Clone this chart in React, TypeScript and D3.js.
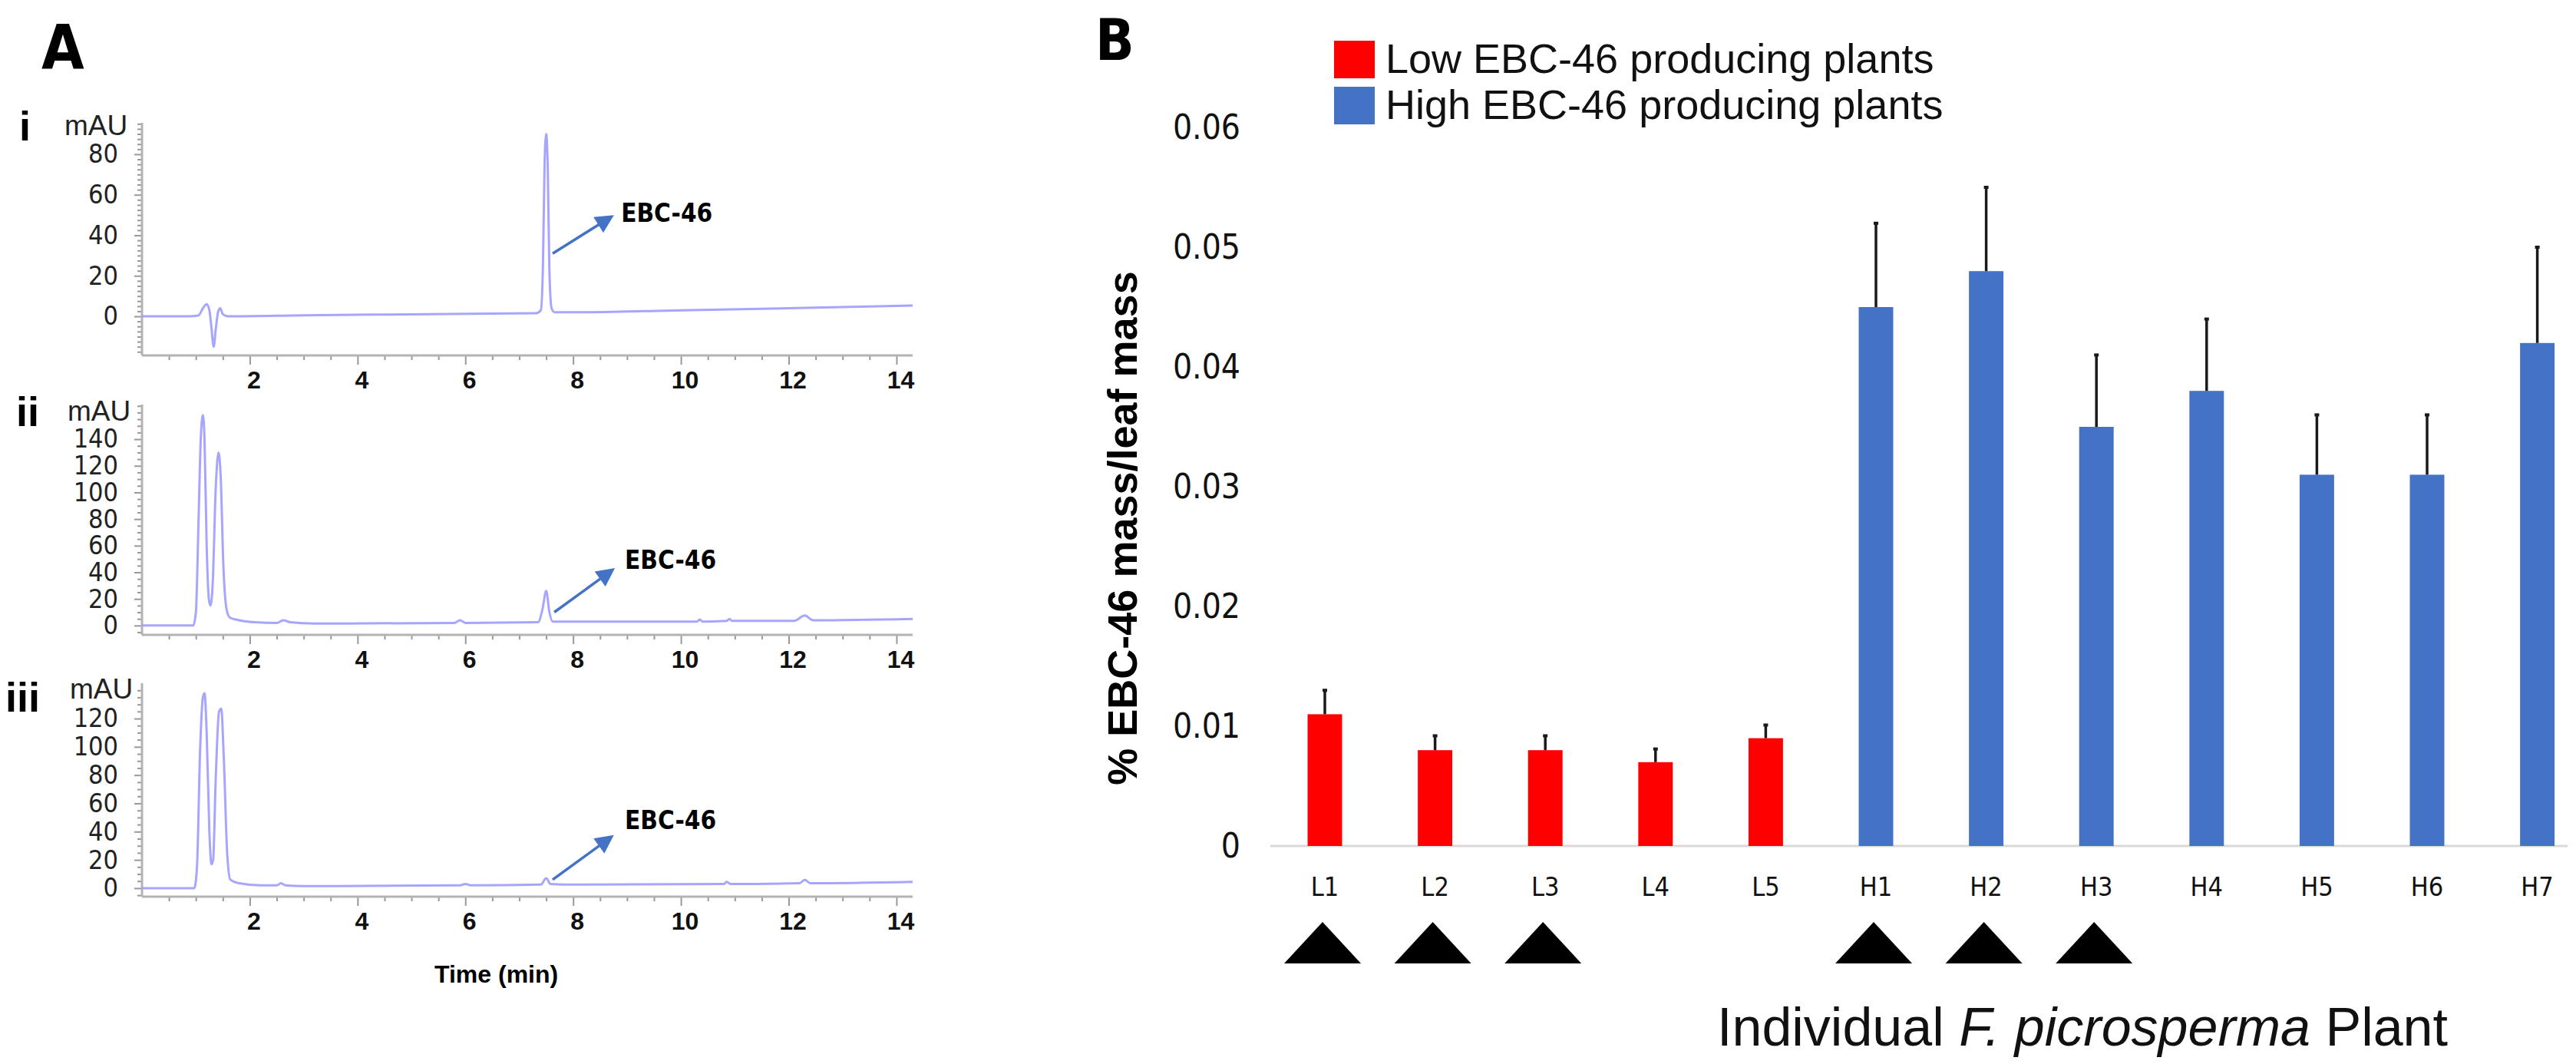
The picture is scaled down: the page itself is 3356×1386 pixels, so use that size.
import { useEffect, useRef } from 'react';
import * as d3 from 'd3';

// ---- Panel A: HPLC traces (time in min, absorbance in mAU) ----
const timeTicks = [2, 4, 6, 8, 10, 12, 14];

const chromI: [number, number][] = [
  [0, 0], [0.9, 0], [1.05, 0.5], [1.13, 4], [1.2, 6], [1.25, 3], [1.29, -6], [1.33, -15],
  [1.37, -6], [1.41, 2], [1.45, 4], [1.5, 1], [1.6, 0], [3, 0.5], [5, 1], [7.3, 1.5],
  [7.4, 3], [7.44, 25], [7.47, 75], [7.5, 90], [7.53, 72], [7.56, 22], [7.6, 4], [7.66, 2],
  [8, 2], [10, 3], [12, 4], [14.3, 5.3],
];

const chromII: [number, number][] = [
  [0, 0], [0.95, 0], [1.0, 10], [1.05, 80], [1.09, 140], [1.13, 158], [1.16, 140], [1.2, 60],
  [1.24, 20], [1.27, 15], [1.31, 30], [1.37, 105], [1.42, 130], [1.46, 112], [1.51, 45],
  [1.57, 12], [1.63, 6], [1.8, 4], [2.1, 2.5], [2.5, 2], [2.62, 4], [2.75, 2.5], [3.2, 1.5],
  [5.8, 2], [5.9, 4], [6.0, 2], [7.35, 2.5], [7.43, 12], [7.5, 26], [7.56, 10], [7.62, 3],
  [8, 3], [10.3, 3], [10.35, 4.5], [10.4, 3], [10.85, 3.5], [10.9, 5], [10.95, 3.5],
  [12.1, 3.5], [12.3, 7.5], [12.45, 4], [14.3, 5],
];

const chromIII: [number, number][] = [
  [0, 0], [0.97, 0], [1.02, 15], [1.08, 100], [1.13, 135], [1.16, 138], [1.2, 110], [1.25, 40],
  [1.29, 17], [1.32, 20], [1.37, 80], [1.43, 125], [1.47, 127], [1.52, 90], [1.58, 25],
  [1.64, 6], [1.8, 3.5], [2.2, 2], [2.5, 2], [2.58, 3.5], [2.66, 2], [3, 1.5], [5.9, 2],
  [6.0, 3], [6.1, 2], [7.4, 2.5], [7.5, 7], [7.58, 3], [8, 2.5], [10.8, 3], [10.85, 4.5],
  [10.92, 3], [12.2, 3.5], [12.3, 6], [12.4, 3.5], [14.3, 4.5],
];

const yTicksI = [0, 20, 40, 60, 80];
const yTicksII = [0, 20, 40, 60, 80, 100, 120, 140];
const yTicksIII = [0, 20, 40, 60, 80, 100, 120];

const traceNames = ['i', 'ii', 'iii'];
// EBC-46 arrow: [tail time, tail mAU, tip time, tip mAU]
const ebcArrows = [
  [7.62, 31, 8.7, 49],
  [7.65, 10, 8.72, 41.5],
  [7.62, 6, 8.7, 36],
];
// EBC-46 text anchor: [time, mAU]
const ebcLabels = [
  [8.89, 51],
  [8.96, 49],
  [8.96, 48],
];

// ---- Panel B: EBC-46 content per plant ----
const plants = ['L1', 'L2', 'L3', 'L4', 'L5', 'H1', 'H2', 'H3', 'H4', 'H5', 'H6', 'H7'];
const meanMass = [0.011, 0.008, 0.008, 0.007, 0.009, 0.045, 0.048, 0.035, 0.038, 0.031, 0.031, 0.042];
const errMass = [0.002, 0.0012, 0.0012, 0.0011, 0.0011, 0.007, 0.007, 0.006, 0.006, 0.005, 0.005, 0.008];
const plantGroup = ['low', 'low', 'low', 'low', 'low', 'high', 'high', 'high', 'high', 'high', 'high', 'high'];
const markedPlants = ['L1', 'L2', 'L3', 'H1', 'H2', 'H3'];
const massTicks = [0, 0.01, 0.02, 0.03, 0.04, 0.05, 0.06];
const legendLabels = ['Low EBC-46 producing plants', 'High EBC-46 producing plants'];
const groupKeys = ['low', 'high'];

export default function App() {
  const svgRef = useRef<SVGSVGElement>(null);

  useEffect(() => {
    document.body.style.margin = '0';
    if (!svgRef.current) return;

    const svg = d3.select(svgRef.current);
    svg.selectAll('*').remove(); // start clean

    const narrow = "'Liberation Sans Narrow', 'DejaVu Sans Condensed', 'Liberation Sans', Arial, sans-serif";
    const sans = "'Liberation Sans', Arial, sans-serif";
    const axisGray = '#b3b3b3';
    const traceColor = '#9c9cff';
    const arrowBlue = '#4472c4';

    svg
      .append('defs')
      .append('marker')
      .attr('id', 'ebcHead')
      .attr('markerUnits', 'userSpaceOnUse')
      .attr('viewBox', '0 0 10 10')
      .attr('refX', 8)
      .attr('refY', 5)
      .attr('markerWidth', 26)
      .attr('markerHeight', 24)
      .attr('orient', 'auto')
      .append('path')
      .attr('d', 'M0,0 L10,5 L0,10 z')
      .attr('fill', arrowBlue);

    // ===== Panel A =====
    svg
      .append('text')
      .attr('x', 54)
      .attr('y', 90)
      .style('font-family', narrow)
      .style('font-weight', 'bold')
      .style('font-size', '80px')
      .text('A');

    const x = d3.scaleLinear().domain([0, 14.3]).range([185, 1189]);

    const traces = [
      { data: chromI, ticks: yTicksI, minor: 2.5, domain: [-19.3, 95.5], range: [463, 160], numX: 25, numY: 183, mauX: 84, mauY: 176 },
      { data: chromII, ticks: yTicksII, minor: 5, domain: [-7, 166], range: [827, 527], numX: 21, numY: 555, mauX: 88, mauY: 548 },
      { data: chromIII, ticks: yTicksIII, minor: 5, domain: [-6, 145], range: [1168, 890], numX: 7, numY: 927, mauX: 91, mauY: 910 },
    ];

    const line = d3
      .line<[number, number]>()
      .curve(d3.curveMonotoneX);

    traces.forEach((t, i) => {
      const y = d3.scaleLinear().domain(t.domain).range(t.range);
      const g = svg.append('g');
      const xAxisY = t.range[0];

      // y axis: minor then major ticks
      const minorY = d3
        .range(Math.ceil(t.domain[0] / t.minor) * t.minor, t.domain[1], t.minor)
        .filter((v) => !t.ticks.includes(v));
      g.append('g')
        .attr('transform', `translate(${x(0)},0)`)
        .call(d3.axisLeft(y).tickValues(minorY).tickSize(6).tickFormat(() => ''))
        .call((a) => a.select('.domain').remove())
        .call((a) => a.selectAll('line').attr('stroke', '#999').attr('stroke-width', 2));
      g.append('g')
        .attr('transform', `translate(${x(0)},0)`)
        .call(d3.axisLeft(y).tickValues(t.ticks).tickSize(10).tickPadding(21))
        .call((a) => a.select('.domain').remove())
        .call((a) => a.selectAll('line').attr('stroke', '#999').attr('stroke-width', 2))
        .call((a) =>
          a
            .selectAll('text')
            .style('font-family', narrow)
            .style('font-size', '34px')
            .attr('fill', '#222')
        );
      g.append('line')
        .attr('x1', x(0))
        .attr('x2', x(0))
        .attr('y1', t.range[1])
        .attr('y2', xAxisY)
        .attr('stroke', axisGray)
        .attr('stroke-width', 3);

      // x axis: minor then major ticks
      const minorX = d3.range(0.5, 14.3, 0.5).filter((v) => v % 2 !== 0);
      g.append('g')
        .attr('transform', `translate(0,${xAxisY})`)
        .call(d3.axisBottom(x).tickValues(minorX).tickSize(6).tickFormat(() => ''))
        .call((a) => a.select('.domain').remove())
        .call((a) => a.selectAll('line').attr('stroke', '#999').attr('stroke-width', 2));
      g.append('g')
        .attr('transform', `translate(0,${xAxisY})`)
        .call(d3.axisBottom(x).tickValues(timeTicks).tickSize(12).tickPadding(8))
        .call((a) => a.select('.domain').remove())
        .call((a) => a.selectAll('line').attr('stroke', '#999').attr('stroke-width', 2))
        .call((a) =>
          a
            .selectAll('text')
            .attr('dx', 5)
            .style('font-family', sans)
            .style('font-weight', 'bold')
            .style('font-size', '32px')
            .attr('fill', '#111')
        );
      g.append('line')
        .attr('x1', x(0))
        .attr('x2', x(14.3))
        .attr('y1', xAxisY)
        .attr('y2', xAxisY)
        .attr('stroke', axisGray)
        .attr('stroke-width', 3);

      // trace
      line.x((d) => x(d[0])).y((d) => y(d[1]));
      g.append('path')
        .attr('d', line(t.data))
        .attr('fill', 'none')
        .attr('stroke', traceColor)
        .attr('stroke-width', 3)
        .attr('stroke-opacity', 0.9);

      // roman numeral + unit
      g.append('text')
        .attr('x', t.numX)
        .attr('y', t.numY)
        .style('font-family', sans)
        .style('font-weight', 'bold')
        .style('font-size', '54px')
        .text(traceNames[i]);
      g.append('text')
        .attr('x', t.mauX)
        .attr('y', t.mauY)
        .style('font-family', sans)
        .style('font-size', '37px')
        .attr('fill', '#222')
        .text('mAU');

      // EBC-46 arrow and label
      const [t0, v0, t1, v1] = ebcArrows[i];
      g.append('line')
        .attr('x1', x(t0))
        .attr('y1', y(v0))
        .attr('x2', x(t1))
        .attr('y2', y(v1))
        .attr('stroke', arrowBlue)
        .attr('stroke-width', 3.5)
        .attr('marker-end', 'url(#ebcHead)');
      g.append('text')
        .attr('x', x(ebcLabels[i][0]))
        .attr('y', y(ebcLabels[i][1]))
        .attr('dy', '0.35em')
        .style('font-family', narrow)
        .style('font-weight', 'bold')
        .style('font-size', '33px')
        .text('EBC-46');
    });

    svg
      .append('text')
      .attr('x', 566)
      .attr('y', 1280)
      .style('font-family', sans)
      .style('font-weight', 'bold')
      .style('font-size', '32px')
      .text('Time (min)');

    // ===== Panel B =====
    svg
      .append('text')
      .attr('x', 1427)
      .attr('y', 78)
      .style('font-family', narrow)
      .style('font-weight', 'bold')
      .style('font-size', '74px')
      .text('B');

    const colorScale = d3.scaleOrdinal<string, string>().domain(groupKeys).range(['#ff0000', '#4472c4']);

    const xB = d3
      .scaleBand<string>()
      .domain(plants)
      .range([1654.2, 3377.4])
      .paddingInner(0.687)
      .paddingOuter(0.3435);
    const yB = d3.scaleLinear().domain([0, 0.06]).range([1102, 166]);

    // legend
    const legend = svg.append('g').attr('transform', 'translate(1738,53)');
    const items = legend
      .selectAll('.legend-item')
      .data(legendLabels)
      .enter()
      .append('g')
      .attr('transform', (_d, i) => `translate(0, ${i * 60})`);
    items
      .append('rect')
      .attr('width', 53)
      .attr('height', 49)
      .attr('fill', (_d, i) => colorScale(groupKeys[i]));
    items
      .append('text')
      .attr('x', 67)
      .attr('y', 42)
      .style('font-family', sans)
      .style('font-size', '54px')
      .attr('fill', '#111')
      .text((d) => d);

    // y tick labels
    svg
      .append('g')
      .attr('transform', 'translate(1624,0)')
      .call(
        d3
          .axisLeft(yB)
          .tickValues(massTicks)
          .tickSize(0)
          .tickPadding(8)
          .tickFormat((d) => ((d as number) === 0 ? '0' : d3.format('.2f')(d as number)))
      )
      .call((a) => a.select('.domain').remove())
      .call((a) =>
        a.selectAll('text').style('font-family', narrow).style('font-size', '44px').attr('fill', '#111')
      );

    // y title
    svg
      .append('text')
      .attr('transform', 'translate(1481,688) rotate(-90)')
      .style('text-anchor', 'middle')
      .style('font-family', sans)
      .style('font-weight', 'bold')
      .style('font-size', '54px')
      .text('% EBC-46 mass/leaf mass');

    // baseline
    svg
      .append('line')
      .attr('x1', 1655)
      .attr('x2', 3345)
      .attr('y1', yB(0))
      .attr('y2', yB(0))
      .attr('stroke', '#d9d9d9')
      .attr('stroke-width', 3);

    const bars = svg
      .append('g')
      .selectAll('.bar')
      .data(plants)
      .enter()
      .append('g');

    bars
      .append('rect')
      .attr('x', (d) => xB(d) as number)
      .attr('width', xB.bandwidth())
      .attr('y', (_d, i) => yB(meanMass[i]))
      .attr('height', (_d, i) => yB(0) - yB(meanMass[i]))
      .attr('fill', (_d, i) => colorScale(plantGroup[i]));

    // upper error bars
    bars
      .append('line')
      .attr('x1', (d) => (xB(d) as number) + xB.bandwidth() / 2)
      .attr('x2', (d) => (xB(d) as number) + xB.bandwidth() / 2)
      .attr('y1', (_d, i) => yB(meanMass[i]))
      .attr('y2', (_d, i) => yB(meanMass[i] + errMass[i]))
      .attr('stroke', '#1a1a1a')
      .attr('stroke-width', 3.5);
    bars
      .append('line')
      .attr('x1', (d) => (xB(d) as number) + xB.bandwidth() / 2 - 3)
      .attr('x2', (d) => (xB(d) as number) + xB.bandwidth() / 2 + 3)
      .attr('y1', (_d, i) => yB(meanMass[i] + errMass[i]))
      .attr('y2', (_d, i) => yB(meanMass[i] + errMass[i]))
      .attr('stroke', '#1a1a1a')
      .attr('stroke-width', 4);

    // category labels
    bars
      .append('text')
      .attr('x', (d) => (xB(d) as number) + xB.bandwidth() / 2)
      .attr('y', 1167)
      .style('text-anchor', 'middle')
      .style('font-family', narrow)
      .style('font-size', '34px')
      .attr('fill', '#111')
      .text((d) => d);

    // triangles under selected plants
    svg
      .append('g')
      .selectAll('path')
      .data(markedPlants)
      .enter()
      .append('path')
      .attr('d', (d) => {
        const cx = (xB(d) as number) + xB.bandwidth() / 2 - 3;
        return `M${cx - 50},1255 L${cx},1201 L${cx + 50},1255 Z`;
      })
      .attr('fill', '#000');

    // x title
    const title = svg
      .append('text')
      .attr('x', 2237)
      .attr('y', 1362)
      .style('font-family', sans)
      .style('font-size', '70px')
      .attr('fill', '#111');
    title.append('tspan').text('Individual ');
    title.append('tspan').style('font-style', 'italic').text('F. picrosperma');
    title.append('tspan').text(' Plant');
  }, []);

  return (
    <div>
      <svg ref={svgRef} width={3356} height={1386} style={{ display: 'block', background: '#fff' }} />
    </div>
  );
}
